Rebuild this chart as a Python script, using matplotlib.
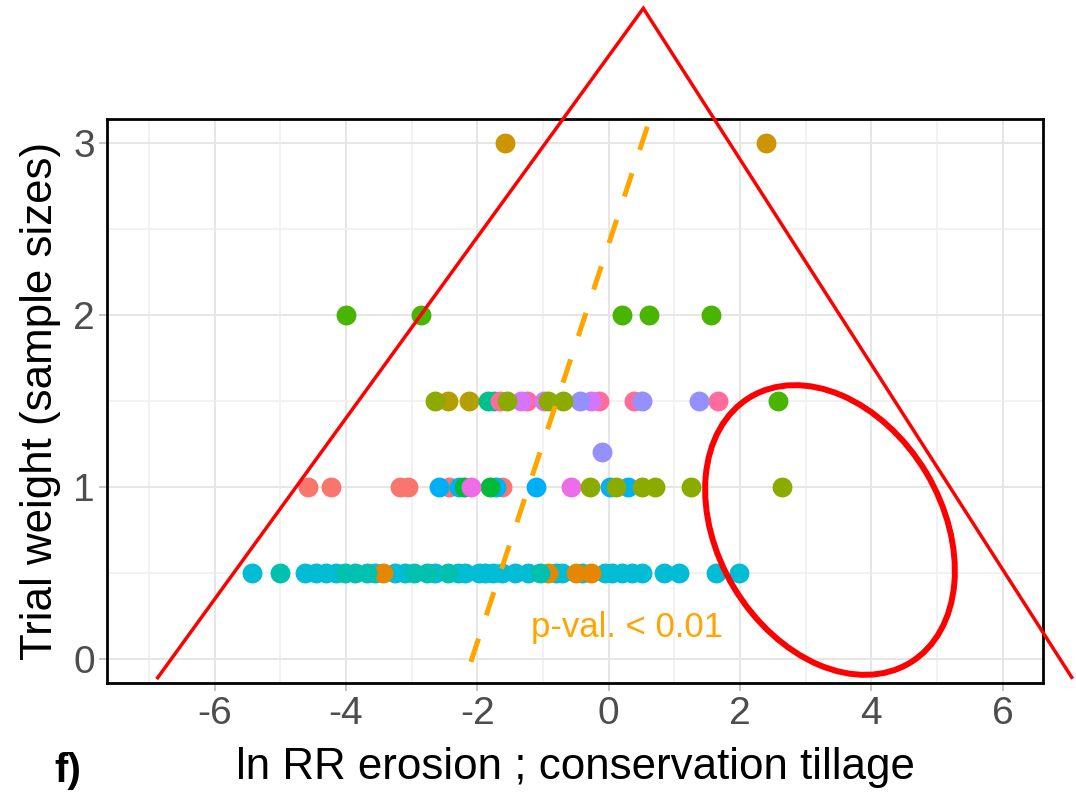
import matplotlib
matplotlib.use("Agg")
import matplotlib.pyplot as plt
from matplotlib.patches import Ellipse
from matplotlib.ticker import MultipleLocator

plt.rcParams["font.family"] = ["Liberation Sans", "DejaVu Sans"]
plt.rcParams["axes.unicode_minus"] = False

# ln RR (x) and trial weight (y) per study group
cyan_x = [-5.43, -4.62, -4.45, -4.30, -4.15, -3.55, -3.25, -3.10, -2.64, -2.30,
          -2.18, -1.98, -1.88, -1.76, -1.62, -1.42, -1.22, -0.80, -0.71, -0.40,
          -0.05, 0.05, 0.21, 0.35, 0.51, 0.84, 1.07, 1.63, 1.98]
cyan_y = [0.5, 0.5, 0.5, 0.5, 0.5, 0.5, 0.5, 0.5, 0.5, 0.5,
          0.5, 0.5, 0.5, 0.5, 0.5, 0.5, 0.5, 0.5, 0.5, 0.5,
          0.5, 0.5, 0.5, 0.5, 0.5, 0.5, 0.5, 0.5, 0.5]
orange_x = [-3.43, -0.92, -0.50, -0.27]
orange_y = [0.5, 0.5, 0.5, 0.5]
teal_x = [-5.01, -4.02, -3.86, -3.68, -2.97, -2.77, -2.44, -1.04]
teal_y = [0.5, 0.5, 0.5, 0.5, 0.5, 0.5, 0.5, 0.5]
salmon_x = [-4.57, -4.22, -3.18, -3.05, -2.43, -1.63]
salmon_y = [1, 1, 1, 1, 1, 1]
blue_x = [-2.58, -2.27, -1.71, -1.10, 0.02, 0.30]
blue_y = [1, 1, 1, 1, 1, 1]
green_x = [-2.20, -1.81]
green_y = [1, 1]
magenta_x = [-2.09, -0.57]
magenta_y = [1, 1]
olive_x = [-0.29, 0.12, 0.51, 0.70, 1.26, 2.64, -2.64, -1.55, -0.92, -0.69]
olive_y = [1, 1, 1, 1, 1, 1, 1.5, 1.5, 1.5, 1.5]
darkolive_x = [-2.44, -2.13]
darkolive_y = [1.5, 1.5]
seagreen_x = [-1.84, -1.75]
seagreen_y = [1.5, 1.5]
pink_x = [-1.65, -1.24, -0.15, 0.38, 1.66]
pink_y = [1.5, 1.5, 1.5, 1.5, 1.5]
lilac_x = [-1.34, -0.99, -0.27]
lilac_y = [1.5, 1.5, 1.5]
lavender_x = [-0.43, 0.51, 1.37, -0.10]
lavender_y = [1.5, 1.5, 1.5, 1.2]
lime_x = [-4.00, -2.86, 0.20, 0.61, 1.56, 2.58]
lime_y = [2, 2, 2, 2, 2, 1.5]
gold_x = [-1.58, 2.40]
gold_y = [3, 3]

# fitted p-value line (orange dashed)
fit_x = [-2.33, 0.75]
fit_y = [-0.29, 3.28]

series = [
    (cyan_x, cyan_y, "#00BCD4"),
    (orange_x, orange_y, "#E58700"),
    (teal_x, teal_y, "#00C0AF"),
    (salmon_x, salmon_y, "#F8766D"),
    (blue_x, blue_y, "#00B0F6"),
    (green_x, green_y, "#00BA38"),
    (magenta_x, magenta_y, "#EE6BEA"),
    (darkolive_x, darkolive_y, "#B3A000"),
    (seagreen_x, seagreen_y, "#00C08B"),
    (pink_x, pink_y, "#FF6C9C"),
    (lilac_x, lilac_y, "#D575FE"),
    (lavender_x, lavender_y, "#9590FF"),
    (olive_x, olive_y, "#8CAB00"),
    (lime_x, lime_y, "#49B500"),
    (gold_x, gold_y, "#CD9600"),
]

fig = plt.figure(figsize=(10.76, 7.93), dpi=100)
ax = fig.add_axes([0.0999, 0.1383, 0.8691, 0.7116])

for xs, ys, col in series:
    ax.scatter(xs, ys, s=205, color=col, linewidths=0, zorder=3)

ax.plot(fit_x, fit_y, color="#FFA500", lw=3.6, dashes=(4.9, 4.9), zorder=4)
ax.text(0.28, 0.18, "p-val. < 0.01", color="#FFA500", fontsize=25,
        ha="center", va="center", zorder=5)

ax.set_xlim(-7.63, 6.61)
ax.set_ylim(-0.144, 3.14)
ax.xaxis.set_major_locator(MultipleLocator(2))
ax.xaxis.set_minor_locator(MultipleLocator(1))
ax.yaxis.set_major_locator(MultipleLocator(1))
ax.yaxis.set_minor_locator(MultipleLocator(0.5))
ax.grid(which="major", color="#E6E6E6", lw=1.4, zorder=0)
ax.grid(which="minor", color="#EFEFEF", lw=1.1, zorder=0)
ax.set_axisbelow(True)
ax.tick_params(which="major", length=6, width=1.2, color="#BBBBBB",
               labelsize=28, labelcolor="#4D4D4D", pad=3)
ax.tick_params(which="minor", length=0)
for sp in ax.spines.values():
    sp.set_linewidth(2.0)
    sp.set_color("black")

ax.set_xlabel("ln RR erosion ; conservation tillage", fontsize=31.6, labelpad=11)
ax.set_ylabel("Trial weight (sample sizes)", fontsize=31.6, labelpad=9)

# hand-drawn highlights in picture pixel space
ov = fig.add_axes([0, 0, 1, 1], zorder=10)
ov.set_xlim(0, 1076)
ov.set_ylim(793, 0)
ov.axis("off")
ov.patch.set_alpha(0)
ov.plot([157.7, 643.3, 1071.7], [677.7, 8.3, 677.3], color="#FF0000", lw=2.5,
        solid_joinstyle="miter")
ov.add_patch(Ellipse((830, 530), 310, 224, angle=59, fill=False,
                     edgecolor="#FF0000", lw=4.3))
ov.text(68, 771, "f)", fontsize=29, fontweight="bold", ha="center", va="center")

fig.savefig("out.png", dpi=100)
